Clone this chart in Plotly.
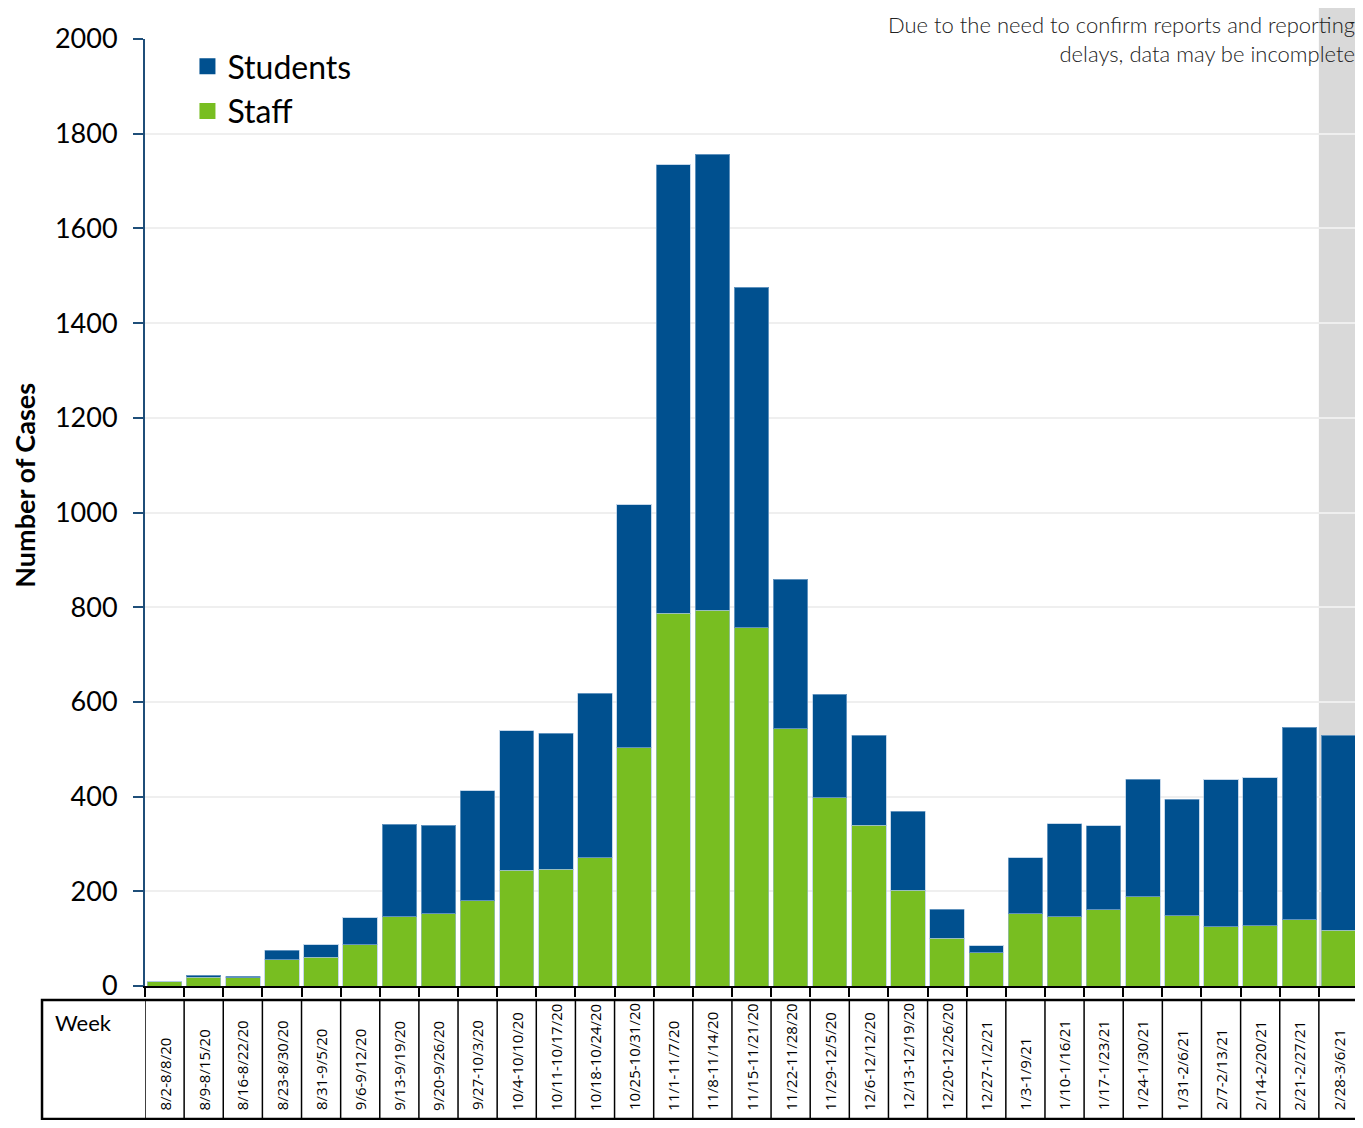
import plotly.graph_objects as go

weeks = [
    "8/2-8/8/20", "8/9-8/15/20", "8/16-8/22/20", "8/23-8/30/20", "8/31-9/5/20",
    "9/6-9/12/20", "9/13-9/19/20", "9/20-9/26/20", "9/27-10/3/20", "10/4-10/10/20",
    "10/11-10/17/20", "10/18-10/24/20", "10/25-10/31/20", "11/1-11/7/20", "11/8-11/14/20",
    "11/15-11/21/20", "11/22-11/28/20", "11/29-12/5/20", "12/6-12/12/20", "12/13-12/19/20",
    "12/20-12/26/20", "12/27-1/2/21", "1/3-1/9/21", "1/10-1/16/21", "1/17-1/23/21",
    "1/24-1/30/21", "1/31-2/6/21", "2/7-2/13/21", "2/14-2/20/21", "2/21-2/27/21",
    "2/28-3/6/21",
]
staff = [9, 19, 17, 55, 61, 87, 146, 153, 180, 244, 247, 271, 503, 787, 794,
         757, 543, 398, 339, 202, 101, 70, 153, 146, 161, 188, 148, 125, 127, 140, 118]
students = [0, 4, 4, 21, 26, 57, 196, 186, 232, 295, 287, 347, 513, 947, 963,
            719, 316, 218, 191, 167, 61, 15, 118, 197, 177, 249, 246, 311, 313, 406, 412]
y_ticks = list(range(0, 2001, 200))

note = "Due to the need to confirm reports and reporting<br>delays, data may be incomplete"

STUDENT_BLUE = "#00508f"
STAFF_GREEN = "#78be21"
BAR_EDGE = dict(color="rgba(160,190,220,0.6)", width=1)

fig = go.Figure()
fig.add_trace(go.Bar(x=weeks, y=staff, name="Staff", marker_color=STAFF_GREEN,
                     marker_line=BAR_EDGE, showlegend=False))
fig.add_trace(go.Bar(x=weeks, y=students, name="Students", marker_color=STUDENT_BLUE,
                     marker_line=BAR_EDGE, showlegend=False))
# legend-only entries so the swatches can be bigger squares
for name, col in [("Students", STUDENT_BLUE), ("Staff", STAFF_GREEN)]:
    fig.add_trace(go.Scatter(x=[None], y=[None], mode="markers", name=name,
                             marker=dict(symbol="square", size=20, color=col)))

n = len(weeks)
shapes = []
# shaded "incomplete" week
shapes.append(dict(type="rect", xref="x", yref="paper", x0=n - 1.5, x1=n - 0.5,
                   y0=0, y1=1.033, fillcolor="#d9d9d9", line_width=0, layer="below"))

# table under the axis
tbl_top, tbl_bot, tbl_left = -0.0148, -0.1405, -0.0849
shapes.append(dict(type="rect", xref="paper", yref="paper", x0=tbl_left, x1=1.0,
                   y0=tbl_bot, y1=tbl_top, line=dict(color="black", width=2.5)))
for i in range(n):
    shapes.append(dict(type="line", xref="x", yref="paper", x0=i - 0.5, x1=i - 0.5,
                       y0=tbl_bot, y1=tbl_top, line=dict(color="black", width=1.5)))

annotations = []
for w in weeks:
    annotations.append(dict(x=w, xref="x", yref="paper", y=-0.1335, text=w,
                            textangle=-90, showarrow=False, xanchor="center",
                            yanchor="bottom",
                            font=dict(family="Open Sans", size=15, color="black")))
annotations.append(dict(x=-0.0758, xref="paper", y=-0.0225, yref="paper", text="Week",
                        showarrow=False, xanchor="left", yanchor="top",
                        font=dict(family="Lato", size=22, color="black")))
annotations.append(dict(x=0.999, xref="paper", y=1.032, yref="paper", text=note,
                        showarrow=False, xanchor="right", yanchor="top", align="right",
                        font=dict(family="Lato", size=22, color="#222222", weight=300)))
annotations.append(dict(x=-0.1, xref="paper", y=0.529, yref="paper",
                        text="<b>Number of Cases</b>", textangle=-90, showarrow=False,
                        xanchor="center", yanchor="middle",
                        font=dict(family="Lato", size=27, color="black")))

fig.update_layout(
    width=1355, height=1112,
    barmode="stack", bargap=0.12,
    paper_bgcolor="white", plot_bgcolor="white",
    margin=dict(l=137, r=5, t=31, b=134),
    font=dict(family="Lato", color="black"),
    legend=dict(x=0.035, y=1.0, xanchor="left", yanchor="top", traceorder="normal",
                font=dict(size=32), bgcolor="rgba(0,0,0,0)", itemwidth=30),
    xaxis=dict(type="category", showticklabels=False, ticks="outside", tickson="boundaries",
               ticklen=9, tickwidth=2, tickcolor="black", showline=True, linecolor="black",
               linewidth=2, showgrid=False, range=[-0.5, n - 0.5]),
    yaxis=dict(range=[0, 2000], tickvals=y_ticks, ticks="outside", ticklen=10,
               tickwidth=2, tickcolor="#1f4e79", showline=True, linecolor="#1f4e79",
               linewidth=2, gridcolor="#efefef", gridwidth=2, zeroline=False,
               ticklabelstandoff=10,
               tickfont=dict(size=27, color="black")),
    shapes=shapes,
    annotations=annotations,
)

fig.write_html("out.html")
